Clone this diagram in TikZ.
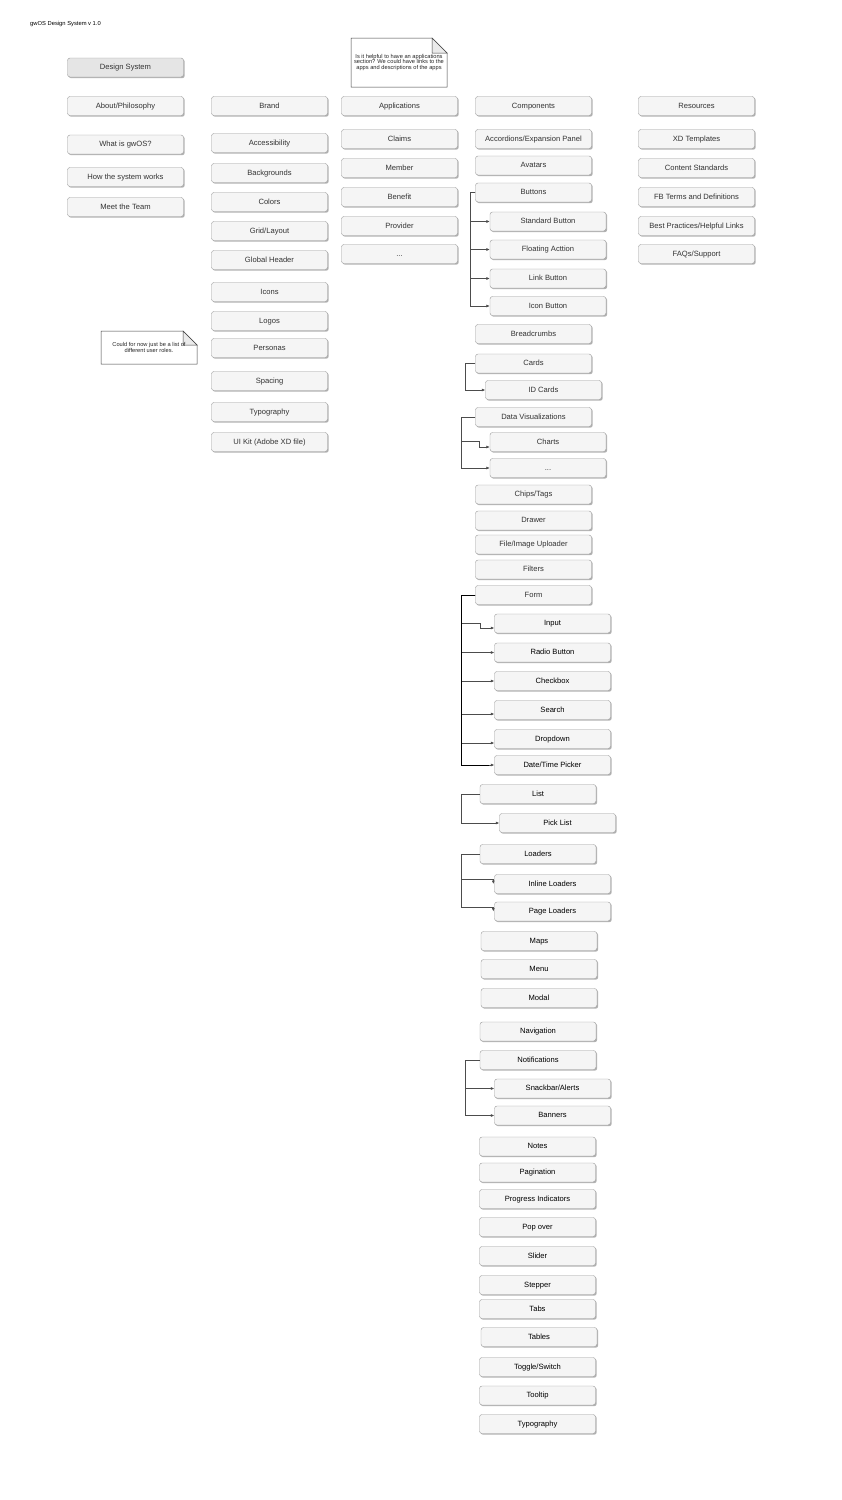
\documentclass[tikz,border=0pt]{standalone}
\usepackage{fontspec}
\setmainfont{Liberation Sans}
\usetikzlibrary{arrows.meta,shadows,calc}
\begin{document}
\begin{tikzpicture}[x=1pt,y=-1pt,
 box/.style={draw=black!40, fill=black!4, rounded corners=2.5pt, minimum width=116pt, minimum height=19pt, inner sep=0pt, text height=5.4pt, text depth=0.6pt, font=\fontsize{7.6}{9}\selectfont, text=black!80, drop shadow={shadow xshift=1.2pt,shadow yshift=-1.2pt,fill=black!50,opacity=0.6}},
 dbox/.style={box, text=black},
 hbox/.style={box, fill=black!10},
 conn/.style={draw=black!70, line width=0.6pt},
 arr/.style={conn, -{Latex[length=3.5pt,width=3pt]}},
 trunk/.style={draw=black, line width=1pt},
 noteline/.style={draw=black!75, line width=0.5pt},
 notetext/.style={font=\fontsize{5.7}{5.6}\selectfont, align=center, inner sep=0pt, text=black!85},
]
\useasboundingbox[fill=white] (0,0) rectangle (842,1500);

\node[anchor=west, font=\fontsize{5.8}{7}\selectfont, inner sep=0pt] (title) at (30,24) {gwOS Design System v 1.0};

% notes
\draw[noteline, fill=white] (351,38) -- (432,38) -- (447,53) -- (447,87) -- (351,87) -- cycle;
\draw[noteline, fill=black!8] (432,38) -- (432,53) -- (447,53) -- cycle;
\node[notetext] (note1) at (399,62.5) {Is it helpful to have an applications\\section? We could have links to the\\apps and descriptions of the apps};
\draw[noteline, fill=white] (101,331) -- (183,331) -- (197,345) -- (197,364) -- (101,364) -- cycle;
\draw[noteline, fill=black!8] (183,331) -- (183,345) -- (197,345) -- cycle;
\node[notetext] (note2) at (149,347.5) {Could for now just be a list of\\different user roles.};

% column 1
\node[hbox] (ds) at (125.5,67.5) {Design System};
\node[box] (about) at (125.5,106) {About/Philosophy};
\node[box] (what) at (125.5,144.5) {What is gwOS?};
\node[box] (how) at (125.5,177) {How the system works};
\node[box] (team) at (125.5,207) {Meet the Team};

% brand
\node[box] (brand) at (269.5,106) {Brand};
\node[box] (acc) at (269.5,143) {Accessibility};
\node[box] (bg) at (269.5,173) {Backgrounds};
\node[box] (col) at (269.5,202) {Colors};
\node[box] (grid) at (269.5,231) {Grid/Layout};
\node[box] (gh) at (269.5,260) {Global Header};
\node[box] (icons) at (269.5,292) {Icons};
\node[box] (logos) at (269.5,321) {Logos};
\node[box] (pers) at (269.5,348) {Personas};
\node[box] (spac) at (269.5,381) {Spacing};
\node[box] (typo1) at (269.5,412) {Typography};
\node[box] (uikit) at (269.5,442) {UI Kit (Adobe XD file)};

% applications
\node[box] (apps) at (399.5,106) {Applications};
\node[box] (claims) at (399.5,139) {Claims};
\node[box] (member) at (399.5,168) {Member};
\node[box] (benefit) at (399.5,197) {Benefit};
\node[box] (prov) at (399.5,226) {Provider};
\node[box] (appdots) at (399.5,254) {...};

% resources
\node[box] (res) at (696.5,106) {Resources};
\node[box] (xd) at (696.5,139) {XD Templates};
\node[box] (cs) at (696.5,168) {Content Standards};
\node[box] (fb) at (696.5,197) {FB Terms and Definitions};
\node[box] (bp) at (696.5,226) {Best Practices/Helpful Links};
\node[box] (faq) at (696.5,254) {FAQs/Support};

% components
\node[box] (comp) at (533.5,106) {Components};
\node[box] (accd) at (533.5,139) {Accordions/Expansion Panel};
\node[box] (avat) at (533.5,165.5) {Avatars};
\node[box] (btn) at (533.5,192.5) {Buttons};
\node[box] (sb) at (548,221.5) {Standard Button};
\node[box] (fa) at (548,249.5) {Floating Acttion};
\node[box] (lb) at (548,278.5) {Link Button};
\node[box] (ib) at (548,306) {Icon Button};
\node[box] (bc) at (533.5,334) {Breadcrumbs};
\node[box] (cards) at (533.5,363.5) {Cards};
\node[box] (idc) at (543.5,390) {ID Cards};
\node[box] (dv) at (533.5,417) {Data Visualizations};
\node[box] (charts) at (548,442) {Charts};
\node[box] (dvdots) at (548,468) {...};
\node[box] (chips) at (533.5,494.5) {Chips/Tags};
\node[box] (drawer) at (533.5,520.5) {Drawer};
\node[box] (file) at (533.5,544.5) {File/Image Uploader};
\node[box] (filt) at (533.5,569.5) {Filters};
\node[box] (form) at (533.5,595) {Form};
\node[dbox] (inp) at (552.5,623.5) {Input};
\node[dbox] (rb) at (552.5,652.5) {Radio Button};
\node[dbox] (cb) at (552.5,681) {Checkbox};
\node[dbox] (se) at (552.5,710) {Search};
\node[dbox] (dd) at (552.5,739) {Dropdown};
\node[dbox] (dt) at (552.5,765) {Date/Time Picker};
\node[dbox] (list) at (538,794) {List};
\node[dbox] (pick) at (557.5,823) {Pick List};
\node[dbox] (load) at (538,854) {Loaders};
\node[dbox] (inl) at (552.5,884) {Inline Loaders};
\node[dbox] (pl) at (552.5,911.5) {Page Loaders};
\node[dbox] (maps) at (539,941) {Maps};
\node[dbox] (menu) at (539,969) {Menu};
\node[dbox] (modal) at (539,998) {Modal};
\node[dbox] (nav) at (538,1031.5) {Navigation};
\node[dbox] (notif) at (538,1060) {Notifications};
\node[dbox] (snack) at (552.5,1088.5) {Snackbar/Alerts};
\node[dbox] (ban) at (552.5,1115.5) {Banners};
\node[dbox] (notes) at (537.5,1146.5) {Notes};
\node[dbox] (pag) at (537.5,1172.5) {Pagination};
\node[dbox] (prog) at (537.5,1199) {Progress Indicators};
\node[dbox] (pop) at (537.5,1227) {Pop over};
\node[dbox] (slid) at (537.5,1256) {Slider};
\node[dbox] (step) at (537.5,1285) {Stepper};
\node[dbox] (tabs) at (537.5,1309) {Tabs};
\node[dbox] (tables) at (539,1337) {Tables};
\node[dbox] (togg) at (537.5,1367) {Toggle/Switch};
\node[dbox] (tool) at (537.5,1395.5) {Tooltip};
\node[dbox] (typo2) at (537.5,1424) {Typography};

% connectors
\foreach \c in {sb,fa,lb,ib} \draw[arr] (btn.west) -- ++(-5,0) |- (\c.west);
\draw[arr] (cards.west) -- ++(-10,0) |- (idc.west);
\draw[arr] (dv.west) -- ++(-14,0) |- (479,441) |- ($(charts.west)+(0,5)$);
\draw[arr] (dv.west) -- ++(-14,0) |- (dvdots.west);

\draw[arr] (form.west) -- ++(-14,0) |- (480,623) |- ($(inp.west)+(0,4.5)$);
\draw[arr] (form.west) -- ++(-14,0) |- (rb.west);
\draw[arr] (form.west) -- ++(-14,0) |- (cb.west);
\draw[arr] (form.west) -- ++(-14,0) |- ($(se.west)+(0,4)$);
\draw[arr] (form.west) -- ++(-14,0) |- ($(dd.west)+(0,4)$);
\draw[trunk] (form.west) -- ++(-14,0) |- ($(dt.west)+(-4,0)$);
\draw[arr] ($(dt.west)+(-5,0)$) -- (dt.west);

\draw[arr] (list.west) -- ++(-19,0) |- (pick.west);
\draw[arr] (load.west) -- ++(-19,0) |- ($(inl.west)+(-1,-5)$) -- ($(inl.west)+(-1,0)$);
\draw[arr] (load.west) -- ++(-19,0) |- ($(pl.west)+(-1,-4)$) -- ($(pl.west)+(-1,0)$);
\draw[arr] (notif.west) -- ++(-15,0) |- (snack.west);
\draw[arr] (notif.west) -- ++(-15,0) |- (ban.west);
\end{tikzpicture}
\end{document}
